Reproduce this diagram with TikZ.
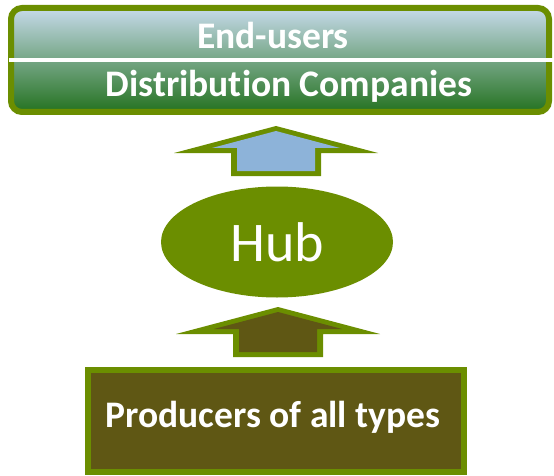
\documentclass[tikz,border=0pt]{standalone}
\usepackage{fontspec}
\setmainfont{Carlito}[Ligatures={NoCommon}]
\usetikzlibrary{calc,positioning,shapes.geometric}

\definecolor{olivegreen}{RGB}{107,142,0}
\definecolor{producerbrown}{RGB}{95,87,20}
\definecolor{flowblue}{RGB}{141,179,217}
\definecolor{skytop}{RGB}{198,218,234}
\definecolor{leafmid}{RGB}{165,192,132}
\definecolor{forestbot}{RGB}{36,114,32}

% block arrow pointing up, tip at #1, inner fill #2
\newcommand{\blockup}[2]{%
  \fill[olivegreen] (#1) -- ++(102,27) -- ++(-57,0) -- ++(0,23) -- ++(-90,0) -- ++(0,-23) -- ++(-57,0) -- cycle;
  \fill[#2] ($(#1)+(0,5)$) -- ++(64,17) -- ++(-25,0) -- ++(0,23) -- ++(-78,0) -- ++(0,-23) -- ++(-25,0) -- cycle;
}

\tikzset{
  boxtext/.style={text=white, font=\fontsize{37.5}{40}\selectfont\bfseries, inner sep=0pt},
}

\begin{document}
\begin{tikzpicture}[x=1pt,y=-1pt]
  \useasboundingbox (0,0) rectangle (554,476);

  % end-users box
  \node[draw=olivegreen, line width=6pt, rounded corners=11pt,
        top color=skytop, middle color=leafmid, bottom color=forestbot,
        minimum width=538pt, minimum height=104pt] (users) at (280,60) {};
  \draw[white, line width=3.5pt] ([xshift=1pt]users.west) -- ([xshift=3pt]users.east);
  \node[boxtext, anchor=base] (enduser) at (273,49) {End-users};
  \node[boxtext, anchor=base] (distrib) at (289,97) {Distribution Companies};

  % hub
  \node[ellipse, fill=olivegreen, minimum width=232pt, minimum height=111pt, inner sep=0pt,
        text=white, font=\fontsize{56}{60}\selectfont] (hub) at (277,242) {Hub};

  % producers box
  \node[draw=olivegreen, fill=producerbrown, line width=6pt,
        minimum width=376pt, minimum height=102pt] (prod) at (276,421) {};
  \node[boxtext, anchor=base] (prodtext) at (273,427) {Producers of all types};

  % arrows
  \coordinate (uptop) at (276,126);
  \coordinate (upbot) at (278,307);
  \blockup{uptop}{flowblue}
  \blockup{upbot}{producerbrown}
\end{tikzpicture}
\end{document}
